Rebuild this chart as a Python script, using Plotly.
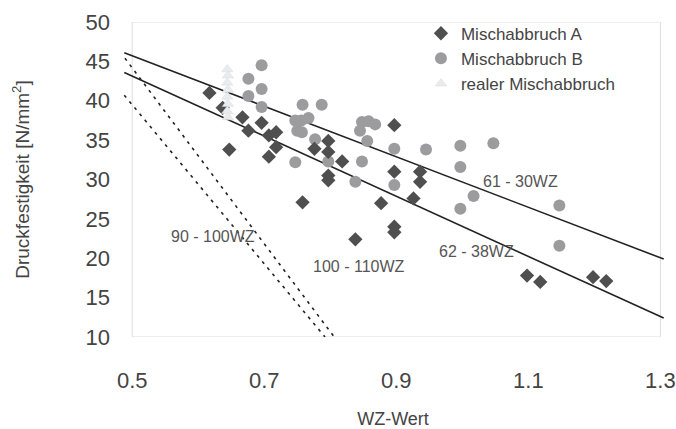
import plotly.graph_objects as go

# Mischabbruch A (dark diamonds)
a_x = [0.617, 0.637, 0.647, 0.667, 0.676, 0.696, 0.707, 0.718, 0.718, 0.707,
       0.758, 0.776, 0.797, 0.797, 0.797, 0.797, 0.818, 0.838, 0.877, 0.897,
       0.897, 0.897, 0.897, 0.926, 0.936, 0.936, 1.098, 1.118, 1.198, 1.218]
a_y = [41.0, 39.1, 33.8, 37.9, 36.2, 37.2, 35.6, 36.0, 34.1, 32.9,
       27.1, 33.9, 34.9, 33.5, 30.5, 29.9, 32.3, 22.4, 27.0, 36.9,
       31.0, 24.0, 23.3, 27.6, 31.0, 29.7, 17.8, 17.0, 17.6, 17.1]

# Mischabbruch B (grey circles)
b_x = [0.696, 0.676, 0.696, 0.676, 0.696, 0.758, 0.787, 0.747, 0.767, 0.756,
       0.750, 0.757, 0.747, 0.777, 0.797, 0.848, 0.858, 0.868, 0.845, 0.856,
       0.848, 0.838, 0.897, 0.897, 0.945, 0.997, 0.997, 1.047, 1.017, 0.997,
       1.147, 1.147]
b_y = [44.5, 42.8, 41.5, 40.6, 39.2, 39.5, 39.5, 37.5, 37.8, 37.5,
       36.2, 36.0, 32.2, 35.1, 32.3, 37.3, 37.4, 37.0, 36.2, 34.9,
       32.3, 29.7, 33.9, 29.3, 33.8, 34.3, 31.6, 34.6, 27.9, 26.3,
       26.7, 21.6]

# realer Mischabbruch (light triangles)
r_x = [0.644, 0.645, 0.644, 0.645, 0.644, 0.645, 0.644, 0.645]
r_y = [44.0, 43.2, 42.3, 41.4, 40.5, 39.6, 38.7, 37.9]

# Regression / reference lines (end points)
line1_x = [0.488, 1.305]   # 61 - 30WZ
line1_y = [46.1, 19.9]
line2_x = [0.488, 1.305]   # 62 - 38WZ
line2_y = [43.6, 12.4]
line3_x = [0.489, 0.806]   # 100 - 110WZ
line3_y = [45.4, 10.0]
line4_x = [0.488, 0.792]   # 90 - 100WZ
line4_y = [40.7, 10.0]

labels = ["61 - 30WZ", "62 - 38WZ", "90 - 100WZ", "100 - 110WZ"]
label_x = [1.088, 1.021, 0.623, 0.844]
label_y = [29.8, 20.8, 22.7, 19.0]

x_ticks = [0.5, 0.7, 0.9, 1.1, 1.3]
y_ticks = [10, 15, 20, 25, 30, 35, 40, 45, 50]

FONT = "Liberation Sans, Arial"
TXT = "#444444"

fig = go.Figure()

for lx, ly, dash in [(line1_x, line1_y, "solid"), (line2_x, line2_y, "solid"),
                     (line3_x, line3_y, "3px,5px"), (line4_x, line4_y, "3px,5px")]:
    fig.add_trace(go.Scatter(x=lx, y=ly, mode="lines", showlegend=False,
                             line=dict(color="#222222", width=1.6, dash=dash),
                             hoverinfo="skip"))

fig.add_trace(go.Scatter(x=b_x, y=b_y, mode="markers", name="Mischabbruch B",
                         marker=dict(symbol="circle", size=12, color="#9c9c9e",
                                     line=dict(width=0))))
fig.add_trace(go.Scatter(x=a_x, y=a_y, mode="markers", name="Mischabbruch A",
                         marker=dict(symbol="diamond", size=11, color="#4f4f4f",
                                     line=dict(width=0))))
fig.add_trace(go.Scatter(x=r_x, y=r_y, mode="markers", name="realer Mischabbruch",
                         marker=dict(symbol="triangle-up", size=10, color="#e9ecec",
                                     line=dict(width=0.5, color="#dcdcdc"))))

for t, x, y in zip(labels, label_x, label_y):
    fig.add_annotation(x=x, y=y, text=t, showarrow=False,
                       font=dict(family=FONT, size=16, color="#555555"))

# plot frame
fig.add_shape(type="rect", xref="x", yref="y", x0=0.5, x1=1.3, y0=10, y1=50,
              line=dict(color="#dddddd", width=1), layer="below")

fig.update_layout(
    width=676, height=429,
    margin=dict(l=119, r=9, t=22, b=92),
    paper_bgcolor="white", plot_bgcolor="white",
    font=dict(family=FONT, color=TXT),
    legend=dict(x=0.551, y=1.02, xanchor="left", yanchor="top",
                traceorder="normal", font=dict(size=17, color=TXT),
                bgcolor="rgba(0,0,0,0)", itemwidth=30, tracegroupgap=0),
    xaxis=dict(range=[0.48, 1.31], tickvals=x_ticks, ticktext=[str(v) for v in x_ticks],
               showgrid=False, zeroline=False, showline=False, ticks="",
               automargin=False,
               tickfont=dict(size=22, color=TXT), ticklabelstandoff=28,
               title=dict(text="WZ-Wert", font=dict(size=18, color=TXT), standoff=22)),
    yaxis=dict(range=[10, 50], tickvals=y_ticks, showgrid=False, zeroline=False,
               showline=False, ticks="", tickfont=dict(size=22, color=TXT),
               automargin=False, ticklabelstandoff=8,
               title=dict(text="Druckfestigkeit [N/mm<sup>2</sup>]",
                          font=dict(size=19, color=TXT), standoff=50)),
)

# legend order: A, B, real
fig.data[5].legendrank = 1
fig.data[4].legendrank = 2
fig.data[6].legendrank = 3

fig.write_html("out.html", config={"displayModeBar": False},
               post_script="document.body.style.margin='0px';")
